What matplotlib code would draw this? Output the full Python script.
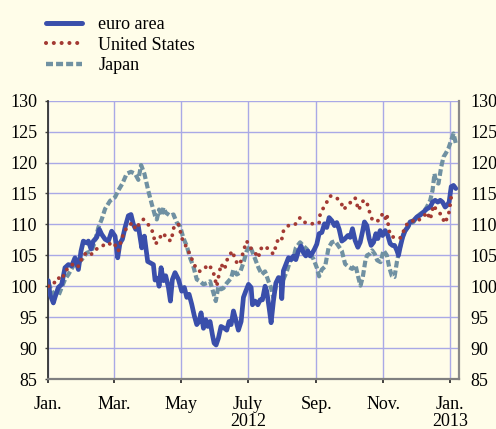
import matplotlib
matplotlib.use("Agg")
import matplotlib.pyplot as plt
import numpy as np

# ---- data (days since 1 Jan 2012, index values) ----
euro_days = [0, 1.5, 4.6, 6.1, 9.1, 12.2, 15.2, 18.3, 21.3, 24.3, 27.4, 29.8, 31.9, 35, 36.5, 38.9, 41, 44.1,
             46.5, 48.6, 51.7, 54.7, 57.7, 60.8, 63.2, 65.3, 67.5, 69.9, 72.9, 75.3, 77.5, 79.6, 82, 85.1, 87.5,
             90.5, 92.7, 95.7, 97.2, 99.6, 100.9, 102.7, 104.8, 106.9, 109.4, 111.2, 113, 115.4, 118.5, 121.5,
             123.9, 126.1, 128.2, 130.6, 133, 135.2, 137.3, 139.1, 141.3, 143.4, 145.2, 147.3, 149.5, 151,
             152.8, 154.9, 157.3, 160.4, 162.5, 164.6, 166.5, 168.6, 170.7, 173.1, 175.6, 177.7, 179.8, 182.3,
             184.7, 185.9, 188.3, 190.8, 192.9, 195, 197.4, 198.9, 201.1, 202.9, 205, 207.2, 209.6, 212, 212.6,
             214.1, 216.3, 218.7, 221.1, 223.3, 225.4, 227.8, 230.2, 232.4, 234.5, 236.3, 238.4, 239.9, 242.4,
             244.5, 246.6, 249.1, 251.5, 253.6, 255.7, 258.2, 260.6, 262.7, 264.9, 267.3, 269.7, 272.8, 274.9,
             277, 279.4, 281.9, 284, 286.1, 287.9, 290.1, 292.2, 294, 296.2, 298.3, 300.1, 302.2, 304.4, 306.8,
             309.2, 311.3, 313.4, 315.3, 317.4, 318.9, 320.4, 322.6, 325, 327.4, 329.5, 332.6, 335.6, 338.7,
             341.7, 344.7, 347.8, 349.9, 352.3, 354.7, 356.9, 359, 361.4, 363.2, 365, 366.9, 369, 371.1]
euro_vals = [100.9, 98.7, 97.3, 98.2, 99.8, 100.3, 103, 103.5, 103.3, 104.6, 102.7, 105.7, 107.3, 107, 107.3,
             106, 107.3, 107.9, 109.2, 108.4, 107.6, 107.3, 108.9, 108.1, 104.6, 107, 107.6, 109.5, 111.4,
             111.6, 110, 109.2, 109.7, 106.2, 108.1,
             104, 103.8, 103.5, 101, 101.3, 100, 103, 100.9, 101.7, 99.8, 97.6, 101.1, 102.2, 101.1, 99.2,
             99.8, 98.2, 98.7, 97.1, 95.2, 93.8, 94.3, 95.7, 93.2, 94.6, 93.5, 94.3, 92.1, 90.8,
             90.5, 91.6, 93.5, 93.2, 92.9, 94.3, 93.8, 96, 94.6, 92.9, 94.3, 98.2, 99.2, 100.3,
             99.8, 97, 97.6, 97, 97.8, 97.8, 100, 99.2, 96.5, 94.1, 97.6, 100.5, 101.4, 101.1, 98,
             102.5, 103.5, 104.6, 104.3, 104.9, 104.3, 105.7, 106.5, 105.4, 104.9, 105.7, 104.9, 105.2, 106,
             106.8, 108.5, 108.7, 110.1, 109.5, 111.1, 110.6, 109.8, 110.3, 109.2, 107.3, 107.6, 108.2, 107.9,
             109.3, 107.4, 106.3, 107.1, 108.8, 110.4, 109.8, 107.7, 106.6, 107.1, 108.5, 107.7, 109, 108.2, 109,
             108.2, 106.9, 106.6, 106.6, 105.8, 105, 106.3, 107.9, 109, 109.6, 110.4, 110.6, 111.2, 111.5,
             112, 112.5, 112.8, 113.6, 113.9, 113.6, 113.9, 113.6, 112.8, 113.1, 113.6, 116.1, 116.3, 115.8]

us_days = [0, 4.6, 8.2, 12.8, 14.6, 18.3, 21.9, 25.8, 28.9, 31, 35, 38.9, 42.5, 46.2, 49.2, 53.2, 57.1, 60.2,
           62.3, 63.8, 66.8, 69.3, 72.9, 76.6, 79.6, 83.5, 86.6, 89.6, 94.2, 97.8, 100.3, 104.8, 107.8, 111.8,
           114.8, 118.5, 122.1, 126.1, 129.1, 132.1, 135.2, 138.2, 142.8, 146.4, 150.4, 153.4, 154.9, 157.3,
           160.4, 163.4, 167.7, 170.7, 174.6, 177.7, 180.7, 183.8, 188.3, 191.4, 192.9, 197.4, 202, 205, 209.6,
           212.6, 214.1, 218.7, 224.8, 229.3, 233.9, 239.9, 246.6, 247.5, 249.7, 253.6, 256.7, 262.7, 267.3,
           268.8, 274.9, 279.4, 282.5, 287, 290.1, 291.6, 295.3, 300.7, 304.4, 306.8, 308.3, 309.8, 311.3,
           315.9, 320.4, 323.5, 326.5, 331.1, 335.6, 338.7, 341.7, 344.7, 347.8, 350.8, 353.8, 358.4, 360.8,
           362.9, 365, 366.9, 369.9]
us_vals = [100, 100.3, 101.4, 101.1, 102.2, 103, 103.5, 103, 103.5, 104.9, 105.4, 105.1, 105.9, 106.2, 106.5,
           107, 106.8, 107, 105.9, 105.7, 107.6, 108.9, 109.7, 110.3, 109.2, 110.3, 110.8, 110.3, 109.2, 106.8,
           107.6, 108.6, 107.7, 107.3, 109.9, 110, 107.6, 106.2, 105.1, 103.8, 102.7, 102.4, 103, 103.5, 102.2,
           100, 101.4, 103.6, 102.7, 104.6, 105.7, 104, 103.5, 105.7, 107.3, 106.3, 105.4, 104.6, 106, 106.5,
           105.7, 105.2, 107.8, 107.6, 108.9, 109.8, 110, 111.1, 110.3, 110.1, 110.2, 111.6, 112.4, 113.6, 114.6,
           114.3, 113.2, 112.4, 113.5, 114.3, 112.3, 113.9, 113.6, 112.5, 110.6, 110.6, 111.7, 110.9, 111.7,
           109.6, 108.2, 107.8, 107.8, 108.9, 110, 110.6, 110.4, 110.9, 111.2, 112, 110.8, 113.1, 112.2, 111.5,
           110.2, 110.9, 112, 114.4, 114.7]

jp_days = [0, 3, 6.1, 9.1, 12.2, 15.2, 18.3, 22.8, 27.4, 30.4, 35, 39.5, 42.5, 45.6, 48.6, 51.7, 56.2, 60.8,
           63.8, 67.5, 71.4, 75.3, 79, 82, 84.5, 87.5, 91.1, 94.2, 97.2, 98.8, 100.9, 103.3, 104.8, 107, 110.9,
           114, 117, 120, 123, 126.1, 129.1, 132.1, 135.2, 138.2, 141.3, 144.3, 147.3, 150.4, 152.5, 154.9,
           157.3, 159.5, 162.5, 166.5, 168.6, 171.6, 174.6, 177.7, 180.7, 183.8, 186.8, 188.3, 191.4, 194.4,
           197.4, 200.5, 202.9, 205, 208.1, 211.1, 214.1, 217.2, 220.2, 223.3, 225.4, 229.3, 232.4, 235.4,
           238.4, 241.5, 244.5, 246.6, 249.1, 252.1, 255.2, 258.2, 261.2, 264.3, 267.3, 270.3, 273.7, 276.7,
           279.8, 282.2, 284.3, 286.4, 288.8, 290.3, 292.5, 294.9, 297.3, 299.5, 302.5, 305.3, 308.3, 310.4,
           312.8, 315.3, 317.4, 318.9, 321.3, 323.5, 326.5, 329.5, 332.6, 335.6, 338.7, 341.7, 344.7, 347.8,
           349.9, 351.7, 352.9, 355.3, 357.8, 359.9, 362, 364.4, 366.9, 369, 371.1]
jp_vals = [100.6, 99.2, 98.7, 98.4, 99.8, 101.1, 101.9, 103.3, 103.8, 104.3, 105.4, 105.7, 107.3, 109.5, 110.8,
           112.5, 113.8, 114.4, 115.5, 116.6, 118.2, 118.5, 118.2, 117.2, 119.6, 118.2, 115.4, 113.3, 111.4,
           110.8, 112.4, 111.4, 112.7, 111.9, 111.4, 111.6, 110.3, 109.7, 107.8, 106.5, 104.6, 103.2, 101.1,
           100.8, 100.3, 100.5, 100.8, 98.9, 97.6, 100, 99.5, 99.7, 100.5, 101.3, 102.7, 101.9, 102.2, 103.8,
           105.7, 106.5, 105.1, 104.4, 103, 101.9, 102.4, 100.8, 99.7, 98.1, 100.8, 101.4, 101.1, 102.4, 104.1,
           104.6, 106.2, 107.1, 106.5, 106, 105.2, 104.4, 103, 101.6, 102.7, 103.2, 106.2, 107.1, 107.3, 106.5,
           105.7, 103.6, 103.1, 102.8, 103.4, 101.5, 100.1, 101.5, 104.2, 105, 105.2, 105.8, 105.2, 104.2,
           103.9, 105.8, 105, 103.1, 101.7, 101.5, 103.9, 105.2, 107.1, 108.5, 109.3, 110.1, 110.4, 111.2,
           111.7, 112, 112.8, 113.9, 115.5, 118.2, 116.9, 116.6, 119.3, 120.9, 121.5, 122.3, 123.6, 124.7, 123.1]

month_ticks = [0, 60, 121, 182, 244, 305, 366]
month_labels = ["Jan.", "Mar.", "May", "July\n2012", "Sep.", "Nov.", "Jan.\n2013"]
year_ticks = [0, 366]
y_ticks = [85, 90, 95, 100, 105, 110, 115, 120, 125, 130]

# ---- style ----
BG = "#fffde9"
GRID = "#a9a9e6"
EURO = "#3a4fab"
US = "#a33a33"
JP = "#7091a2"

plt.rcParams["font.family"] = ["Liberation Serif", "DejaVu Serif"]
plt.rcParams["font.size"] = 13

fig = plt.figure(figsize=(4.96, 4.29), dpi=100, facecolor=BG)
ax = fig.add_axes([48.3 / 496, 1 - 379 / 429, (459 - 48.3) / 496, (379 - 100.7) / 429])
ax.set_facecolor(BG)

l_jp, = ax.plot(jp_days, jp_vals, color=JP, lw=3.0, linestyle=(0, (1.6, 0.7)),
                dash_capstyle="butt", solid_joinstyle="round", label="Japan", zorder=3)
l_eu, = ax.plot(euro_days, euro_vals, color=EURO, lw=3.4, solid_joinstyle="round",
                solid_capstyle="round", label="euro area", zorder=4)
l_us, = ax.plot(us_days, us_vals, color=US, lw=2.8, linestyle=(0, (0.01, 1.9)),
                dash_capstyle="round", label="United States", zorder=5)

ax.set_xlim(0, 374)
ax.set_ylim(85, 130)
ax.set_yticks(y_ticks)
ax.set_xticks(month_ticks)
ax.set_xticklabels(month_labels, linespacing=1.05)
ax.set_xticks(year_ticks, minor=True)

ax.grid(True, which="major", color=GRID, lw=1.0, zorder=0)
ax.set_axisbelow(True)

ax.tick_params(axis="x", which="major", length=3, width=1.2, color="#222222", pad=9, direction="out")
ax.tick_params(axis="x", which="minor", length=9, width=1.2, color="#222222")
ax.tick_params(axis="y", which="major", left=True, right=False, labelleft=True, labelright=True,
               length=2, width=1, color="#444444", pad=6)

ax.spines["top"].set_visible(False)
ax.spines["left"].set_color("#333333")
ax.spines["left"].set_linewidth(1.3)
ax.spines["right"].set_color("#8a8a8a")
ax.spines["right"].set_linewidth(1.6)
ax.spines["bottom"].set_color("#808080")
ax.spines["bottom"].set_linewidth(1.6)

leg = fig.legend(handles=[l_eu, l_us, l_jp], loc="upper left", bbox_to_anchor=(46 / 496, 1 - 16 / 429),
                 frameon=False, borderpad=0, borderaxespad=0, handlelength=2.0, handletextpad=0.9,
                 labelspacing=0.2, fontsize=13)
for h in leg.legend_handles:
    h.set_linewidth(h.get_linewidth() * 1.05)

fig.savefig("out.png", dpi=100, facecolor=BG)
